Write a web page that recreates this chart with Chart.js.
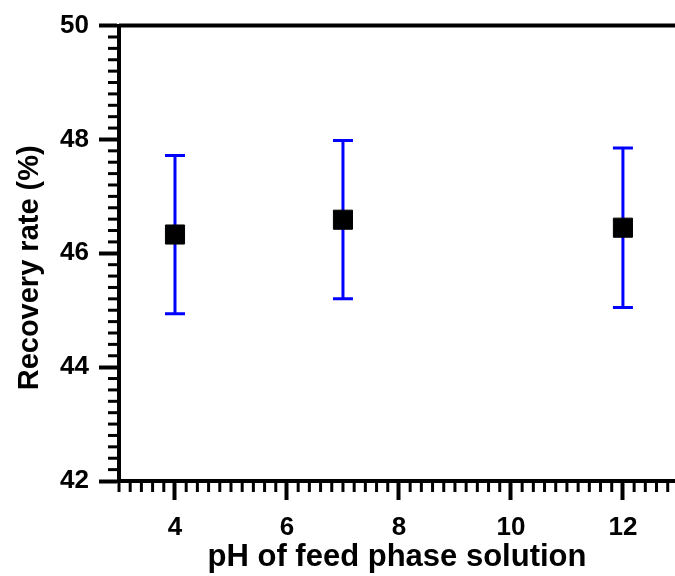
<!DOCTYPE html>
<html>
<head>
<meta charset="utf-8">
<script src="https://cdn.jsdelivr.net/npm/chart.js@4"></script>
<style>
  html, body { margin: 0; padding: 0; background: #fff; overflow: hidden; }
  #wrap { width: 675px; height: 576px; position: relative; }
</style>
</head>
<body>
<div id="wrap"><canvas id="recoveryChart"></canvas></div>
<script>
// données
const phValues = [4, 7, 12];
const recoveryMeans = [46.33, 46.59, 46.45];
const recoveryErrors = [1.39, 1.39, 1.40];
const xTickLabels = [4, 6, 8, 10, 12];
const yTickLabels = [42, 44, 46, 48, 50];

const FONT = 'Arial, "Liberation Sans", Helvetica, sans-serif';

// barres d'erreur + petites graduations + bord supérieur
const errorBarsPlugin = {
    id: 'errorBars',
    beforeDatasetsDraw(chart) {
        const { ctx, scales: { x, y } } = chart;
        ctx.save();
        ctx.strokeStyle = '#0000ff';
        ctx.lineWidth = 3;
        phValues.forEach((ph, i) => {
            const px = x.getPixelForValue(ph);
            const top = y.getPixelForValue(recoveryMeans[i] + recoveryErrors[i]);
            const bot = y.getPixelForValue(recoveryMeans[i] - recoveryErrors[i]);
            ctx.beginPath();
            ctx.moveTo(px, top); ctx.lineTo(px, bot);
            ctx.moveTo(px - 10, top); ctx.lineTo(px + 10, top);
            ctx.moveTo(px - 10, bot); ctx.lineTo(px + 10, bot);
            ctx.stroke();
        });
        ctx.restore();
    },
    afterDraw(chart) {
        const { ctx, chartArea, scales: { x, y } } = chart;
        ctx.save();
        ctx.strokeStyle = '#000';
        ctx.lineWidth = 3;
        // graduations mineures (pas 0.2)
        for (let k = 0; ; k++) {
            const v = x.min + k * 0.2;
            if (v > x.max + 1e-6) break;
            const r = Math.round(v * 10) / 10;
            if (xTickLabels.includes(r)) continue;
            const px = x.getPixelForValue(r);
            ctx.beginPath();
            ctx.moveTo(px, chartArea.bottom);
            ctx.lineTo(px, chartArea.bottom + 11);
            ctx.stroke();
        }
        for (let k = 0; ; k++) {
            const v = y.min + k * 0.2;
            if (v > y.max + 1e-6) break;
            const r = Math.round(v * 10) / 10;
            if (yTickLabels.includes(r)) continue;
            const py = y.getPixelForValue(r);
            ctx.beginPath();
            ctx.moveTo(chartArea.left, py);
            ctx.lineTo(chartArea.left - 11, py);
            ctx.stroke();
        }
        // bord supérieur
        ctx.lineWidth = 4;
        ctx.beginPath();
        ctx.moveTo(chartArea.left, chartArea.top);
        ctx.lineTo(chart.width, chartArea.top);
        ctx.stroke();
        ctx.restore();
    }
};

new Chart(document.getElementById('recoveryChart').getContext('2d'), {
    type: 'scatter',
    data: {
        datasets: [{
            label: 'Recovery rate',
            data: phValues.map((ph, i) => ({ x: ph, y: recoveryMeans[i] })),
            pointStyle: 'rect',
            pointRadius: 13.5,
            pointBackgroundColor: '#000',
            pointBorderColor: '#000',
            pointBorderWidth: 1,
            showLine: false
        }]
    },
    options: {
        responsive: true,
        maintainAspectRatio: false,
        animation: false,
        layout: { autoPadding: false, padding: { top: 20, right: 0, left: 0, bottom: 0 } },
        plugins: {
            legend: { display: false },
            tooltip: { enabled: false }
        },
        scales: {
            x: {
                type: 'linear',
                min: 3,
                max: 12.93,
                afterBuildTicks: (scale) => { scale.ticks = xTickLabels.map(v => ({ value: v })); },
                afterFit: (scale) => { scale.height = 95; },
                border: { display: true, color: '#000', width: 4 },
                grid: { drawOnChartArea: false, drawTicks: true, tickLength: 19, tickWidth: 4, tickColor: '#000' },
                ticks: { color: '#000', padding: 12, font: { family: FONT, size: 26, weight: 'bold' } },
                title: {
                    display: true,
                    text: 'pH of feed phase solution',
                    color: '#000',
                    padding: { top: 6, bottom: 0 },
                    font: { family: FONT, size: 31, weight: 'bold' }
                }
            },
            y: {
                type: 'linear',
                min: 42,
                max: 50,
                afterBuildTicks: (scale) => { scale.ticks = yTickLabels.map(v => ({ value: v })); },
                afterFit: (scale) => { scale.width = 119; },
                border: { display: true, color: '#000', width: 4 },
                grid: { drawOnChartArea: false, drawTicks: true, tickLength: 20, tickWidth: 4, tickColor: '#000' },
                ticks: { color: '#000', padding: 10, font: { family: FONT, size: 26, weight: 'bold' } },
                title: {
                    display: true,
                    text: 'Recovery rate (%)\u2002\u2002',
                    color: '#000',
                    padding: { top: 13, bottom: 0 },
                    font: { family: FONT, size: 29, weight: 'bold' }
                }
            }
        }
    },
    plugins: [errorBarsPlugin]
});
</script>
</body>
</html>
